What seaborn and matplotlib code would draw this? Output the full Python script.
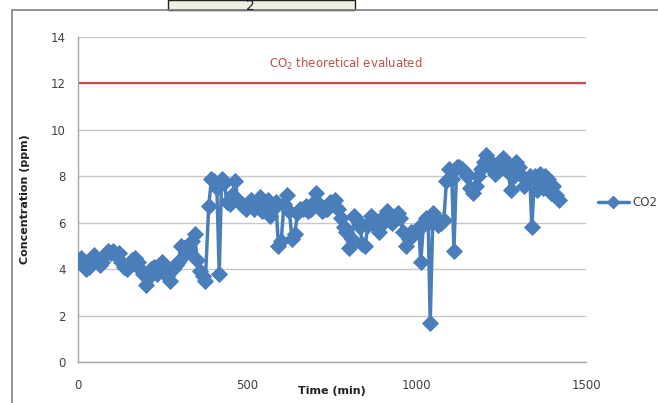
import matplotlib
matplotlib.use("Agg")
import matplotlib.pyplot as plt
import matplotlib.patches as mpatches
from matplotlib.lines import Line2D
import seaborn as sns
import pandas as pd

time_min = [0, 8, 16, 24, 32, 40, 48, 56, 64, 72,
            80, 88, 96, 104, 112, 120, 128, 136, 144, 152,
            160, 168, 176, 184, 192, 200, 208, 216, 224, 232,
            240, 248, 256, 264, 272, 280, 288, 296, 304, 312,
            320, 328, 336, 344, 352, 360, 368, 376, 386, 394,
            402, 410, 417, 424, 432, 440, 448, 456, 464, 472,
            480, 488, 496, 504, 512, 520, 528, 536, 544, 552,
            560, 568, 576, 584, 592, 600, 608, 616, 624, 632,
            640, 648, 656, 664, 672, 680, 688, 696, 704, 712,
            720, 728, 736, 744, 752, 760, 768, 776, 784, 792,
            800, 808, 816, 824, 832, 840, 848, 856, 864, 872,
            880, 888, 896, 904, 912, 920, 928, 936, 944, 952,
            960, 968, 976, 984, 992, 1000, 1006, 1012, 1020, 1028,
            1034, 1040, 1048, 1056, 1064, 1072, 1080, 1088, 1096, 1104,
            1110, 1118, 1126, 1134, 1142, 1150, 1158, 1166, 1174, 1182,
            1190, 1198, 1206, 1214, 1222, 1230, 1238, 1246, 1254, 1262,
            1270, 1278, 1286, 1294, 1302, 1310, 1318, 1326, 1334, 1340,
            1348, 1356, 1364, 1372, 1380, 1388, 1396, 1404, 1412, 1420]
co2_ppm = [4.3, 4.5, 4.2, 4.0, 4.1, 4.5, 4.6, 4.4, 4.2, 4.3,
           4.6, 4.8, 4.7, 4.8, 4.6, 4.7, 4.3, 4.1, 4.0, 4.2,
           4.4, 4.5, 4.3, 4.0, 3.8, 3.3, 3.6, 4.0, 4.1, 3.8,
           4.2, 4.3, 3.9, 3.7, 3.5, 4.0, 4.2, 4.3, 5.0, 4.9,
           4.7, 4.8, 5.2, 5.5, 4.4, 3.9, 3.7, 3.5, 6.7, 7.9,
           7.8, 7.5, 3.8, 7.9, 7.7, 6.9, 6.8, 7.2, 7.8, 7.0,
           6.8, 6.7, 6.6, 6.9, 7.0, 6.6, 6.9, 7.1, 6.5, 6.8,
           7.0, 6.3, 6.6, 6.9, 5.0, 5.2, 6.8, 7.2, 6.5, 5.3,
           5.5, 6.4, 6.6, 6.6, 6.7, 6.5, 6.6, 6.9, 7.3, 6.8,
           6.5, 6.6, 6.6, 6.9, 6.9, 7.0, 6.6, 6.2, 5.8, 5.6,
           4.9, 5.3, 6.3, 6.1, 5.8, 5.1, 5.0, 5.9, 6.3, 6.2,
           5.8, 5.6, 5.9, 6.3, 6.5, 6.2, 6.0, 6.3, 6.4, 6.2,
           5.6, 5.0, 5.3, 5.6, 5.6, 5.7, 5.8, 4.3, 5.9, 6.2,
           6.0, 1.7, 6.4, 6.2, 5.9, 6.0, 6.1, 7.8, 8.3, 7.9,
           4.8, 8.4, 8.4, 8.3, 8.2, 8.0, 7.5, 7.3, 7.6, 8.0,
           8.3, 8.6, 8.9, 8.7, 8.3, 8.1, 8.2, 8.6, 8.8, 8.5,
           8.2, 7.4, 8.0, 8.6, 8.4, 8.0, 7.6, 7.8, 8.0, 5.8,
           8.0, 7.4, 8.1, 7.5, 8.0, 7.9, 7.3, 7.6, 7.2, 7.0]
theory_time = [0, 1500]
theory_ppm = [12, 12]
x_ticks = [0, 500, 1000, 1500]
y_ticks = [0, 2, 4, 6, 8, 10, 12, 14]

sns.set_style("white")
plt.rcParams['font.family'] = ['DejaVu Sans']

BLUE = "#4A7EBB"
RED = "#C0504D"
TICKC = "#404040"

fig = plt.figure(figsize=(6.58, 4.03), dpi=100)
fig.patch.set_facecolor("white")
ax = fig.add_axes([78/658, 1-362/403, (586-78)/658, (362-37)/403])

df = pd.DataFrame({"Time (min)": time_min, "Concentration (ppm)": co2_ppm})
sns.lineplot(data=df, x="Time (min)", y="Concentration (ppm)", ax=ax, color=BLUE,
             marker="D", markersize=7.8, markeredgewidth=0.6, markeredgecolor=BLUE,
             linewidth=2.5, sort=False, zorder=3)
sns.lineplot(x=theory_time, y=theory_ppm, ax=ax, color=RED, linewidth=1.6, zorder=2)

ax.set_xlim(0, 1500)
ax.set_ylim(0, 14)
ax.set_xticks(x_ticks)
ax.set_yticks(y_ticks)
ax.grid(axis="y", color="#C8C8C8", linewidth=1.0)
ax.set_axisbelow(True)
for s in ["top", "right"]:
    ax.spines[s].set_visible(False)
for s in ["left", "bottom"]:
    ax.spines[s].set_color("#A6A6A6")
    ax.spines[s].set_linewidth(1.0)
ax.tick_params(axis="both", direction="out", length=4, color="#A6A6A6",
               labelsize=8.5, labelcolor=TICKC, pad=5)
ax.tick_params(axis="x", pad=8)
ax.set_xlabel("Time (min)", fontsize=8, fontweight="bold", color="#202020")
ax.xaxis.set_label_coords(0.5, -0.075)
ax.set_ylabel("Concentration (ppm)", fontsize=8, fontweight="bold", color="#202020")
ax.yaxis.set_label_coords(-0.095, 0.5)

ax.text(790, 12.85, "CO$_2$ theoretical evaluated", color=RED, fontsize=8.5,
        ha="center", va="center")

handle = Line2D([], [], color=BLUE, marker="D", markersize=6, linewidth=2.5)
ax.legend([handle], ["CO2"], loc="center left", bbox_to_anchor=(1.0, 0.49),
          frameon=False, fontsize=8.5, handlelength=2.6, handletextpad=0.3,
          labelcolor=TICKC, borderaxespad=0.6)

# outer chart frame and top tab
fig.add_artist(Line2D([12/658, 12/658], [0, 1-10/403], color="#808080", linewidth=1.2,
                      transform=fig.transFigure))
fig.add_artist(Line2D([12/658, 1], [1-10/403, 1-10/403], color="#808080", linewidth=1.2,
                      transform=fig.transFigure))
tab = mpatches.Rectangle((168/658, 1-10/403), (355-168)/658, 10/403, transform=fig.transFigure,
                         facecolor="#EEF0E2", edgecolor="#202020", linewidth=1.0)
fig.add_artist(tab)
fig.text(250/658, 1-6/403, "2", fontsize=10, ha="center", va="center", color="#202020")

fig.savefig("out.png", dpi=100)
